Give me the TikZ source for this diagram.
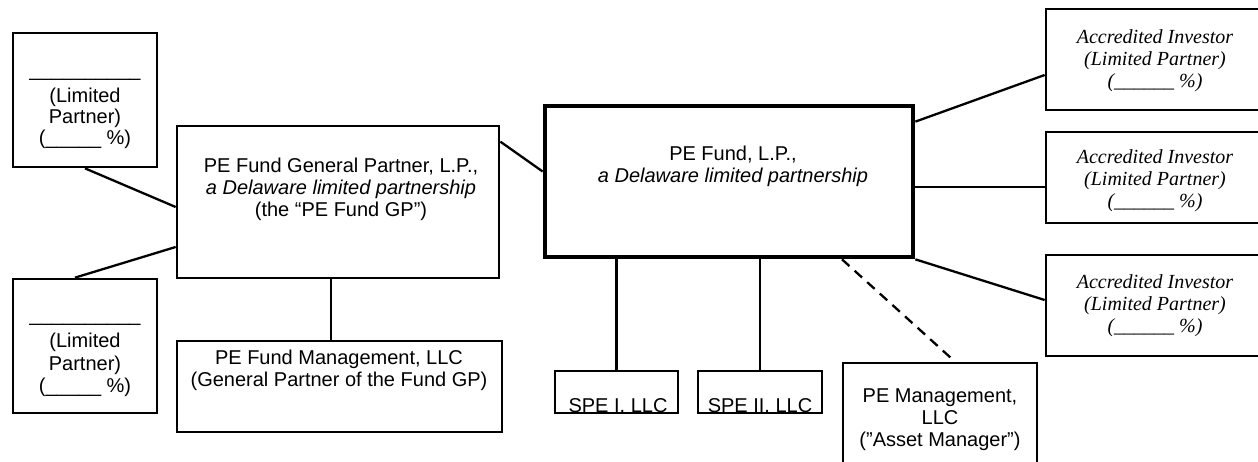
\documentclass[tikz,border=0pt]{standalone}
\usepackage{fontspec}
\setmainfont{Liberation Sans}
\newfontfamily\tms{Liberation Serif}
\begin{document}
\begin{tikzpicture}[x=1pt,y=-1pt,
  box/.style={draw=black, line width=2.7pt, inner sep=0pt, fill=white},
  thickbox/.style={draw=black, line width=4.7pt, inner sep=0pt, fill=white},
  txt/.style={align=center, inner sep=0pt, font=\fontsize{20}{22}\selectfont},
  itxt/.style={align=center, inner sep=0pt, font=\tms\itshape\fontsize{20}{22}\selectfont},
  conn/.style={line width=2.3pt},
  dconn/.style={line width=2.3pt, dash pattern=on 10pt off 7pt}]
\useasboundingbox (0,0) rectangle (1258,462);
% boxes
\node[box, minimum width=144pt, minimum height=134pt] (lpA) at (85,100) {};
\node[box, minimum width=144pt, minimum height=134pt] (lpB) at (85,346) {};
\node[box, minimum width=322pt, minimum height=152pt] (gp) at (338,202) {};
\node[box, minimum width=325pt, minimum height=91pt] (fm) at (339.5,386.5) {};
\node[thickbox, minimum width=368pt, minimum height=151pt] (fund) at (729,181.5) {};
\node[box, minimum width=123pt, minimum height=42pt] (spe1) at (616.5,392) {};
\node[box, minimum width=124pt, minimum height=42pt] (spe2) at (760,392) {};
\node[box, minimum width=194pt, minimum height=122pt] (pem) at (940,424) {};
\node[box, minimum width=218pt, minimum height=101pt] (ai1) at (1155,59.5) {};
\node[box, minimum width=218pt, minimum height=91pt] (ai2) at (1155,177.5) {};
\node[box, minimum width=218pt, minimum height=101pt] (ai3) at (1155,305.5) {};
% texts
\node[txt, font=\fontsize{20}{21}\selectfont] (lpAt) at (85,113) {\_\_\_\_\_\_\_\_\_\_\\[5pt](Limited\\Partner)\\(\_\_\_\_\_ \%)};
\node[txt, font=\fontsize{20}{22.5}\selectfont] (lpBt) at (85,359) {\_\_\_\_\_\_\_\_\_\_\\[4pt](Limited\\Partner)\\(\_\_\_\_\_ \%)};
\node[txt] (gpt) at (341,189) {PE Fund General Partner, L.P.,\\\textit{a Delaware limited partnership}\\(the “PE Fund GP”)};
\node[txt] (fmt) at (339,370) {PE Fund Management, LLC\\(General Partner of the Fund GP)};
\node[txt] (fundt) at (733,166) {PE Fund, L.P.,\\\textit{a Delaware limited partnership}};
\node[txt, anchor=base] (spe1t) at (618,412) {SPE I. LLC};
\node[txt, anchor=base] (spe2t) at (760,412) {SPE II. LLC};
\node[txt] (pemt) at (940,420) {PE Management,\\LLC\\(\char"22 Asset Manager\char"22)};
\node[itxt] (ai1t) at (1155,61) {Accredited Investor\\(Limited Partner)\\(\_\_\_\_\_\_ \%)};
\node[itxt] (ai2t) at (1155,181) {Accredited Investor\\(Limited Partner)\\(\_\_\_\_\_\_ \%)};
\node[itxt] (ai3t) at (1155,306) {Accredited Investor\\(Limited Partner)\\(\_\_\_\_\_\_ \%)};
% connectors
\draw[conn] (lpA.south) -- ([yshift=-5pt]gp.west);
\draw[conn] ([xshift=-10pt]lpB.north) -- ([yshift=-45pt]gp.west);
\draw[conn] ([xshift=-7pt]gp.south) -- ([xshift=-7pt]gp.south |- fm.north);
\draw[conn] ([yshift=-17pt]gp.north east) -- ([yshift=10pt]fund.west);
\draw[conn] ([yshift=-18pt]fund.north east) -- ([yshift=-15.5pt]ai1.west);
\draw[conn] ([yshift=-5.5pt]fund.east) -- ([yshift=-9.5pt]ai2.west);
\draw[conn] (fund.south east) -- ([yshift=5.5pt]ai3.west);
\draw[conn] (spe1.north |- fund.south) -- (spe1.north);
\draw[conn] (spe2.north |- fund.south) -- (spe2.north);
\draw[dconn] ([xshift=113pt]fund.south) -- ([xshift=15pt]pem.north);
\end{tikzpicture}
\end{document}
